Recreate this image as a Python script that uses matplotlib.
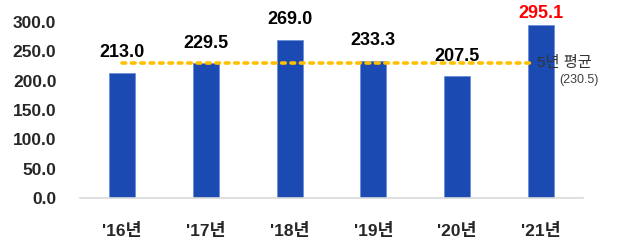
import matplotlib
matplotlib.use("Agg")
import matplotlib.pyplot as plt

categories = ["'16년", "'17년", "'18년", "'19년", "'20년", "'21년"]
values = [213.0, 229.5, 269.0, 233.3, 207.5, 295.1]
value_labels = ["213.0", "229.5", "269.0", "233.3", "207.5", "295.1"]
label_colors = ["#000000", "#000000", "#000000", "#000000", "#000000", "#FF0000"]
average = 230.5
avg_label = "5년 평균"
avg_value_label = "(230.5)"
yticks = [0, 50, 100, 150, 200, 250, 300]

plt.rcParams['font.family'] = ['Liberation Sans', 'Noto Sans CJK KR', 'DejaVu Sans']

fig = plt.figure(figsize=(6.33, 2.48), dpi=100)
ax = fig.add_axes([80/633, 1 - 198/248, (583-80)/633, (198-22)/248])

x = list(range(len(categories)))
ax.bar(x, values, width=0.31, color="#1B4BB2", edgecolor="#6A8FD8", linewidth=0.6, zorder=2)

for xi, v, lab, c in zip(x, values, value_labels, label_colors):
    ax.text(xi, min(v + 20, 300), lab, ha="center", va="bottom", fontsize=13,
            fontweight="bold", color=c, zorder=4)

ax.plot([x[0], x[-1] - 0.08], [average, average], linestyle=(0, (1, 1.6)), color="#FFC000",
        linewidth=2.6, zorder=3, dash_capstyle="round")
ax.text(x[-1] - 0.05, average, avg_label, ha="left", va="center", fontsize=11,
        color="#333333", zorder=5)
ax.text(x[-1] + 0.22, average - 30, avg_value_label, ha="left", va="center", fontsize=9,
        color="#404040", zorder=5)

ax.set_xlim(-0.5, 5.5)
ax.set_ylim(0, 300)
ax.set_yticks(yticks)
ax.set_yticklabels([f"{t:.1f}" for t in yticks], fontsize=12.5, fontweight="bold", color="#262626")
ax.set_xticks(x)
ax.set_xticklabels(categories, fontsize=12.5, fontweight="bold", color="#262626")
ax.tick_params(axis="both", length=0)
ax.tick_params(axis="x", pad=18)
ax.tick_params(axis="y", pad=17)
for s in ["top", "right", "left"]:
    ax.spines[s].set_visible(False)
ax.spines["bottom"].set_color("#D9D9D9")
ax.spines["bottom"].set_linewidth(1.2)

fig.savefig("out.png", dpi=100)
